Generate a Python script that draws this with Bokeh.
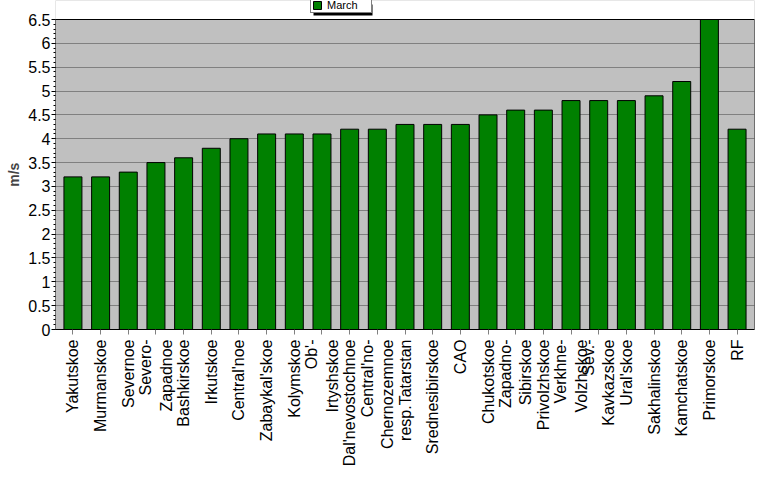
from math import pi
from bokeh.plotting import figure
from bokeh.models import FactorRange, Range1d, Legend, LegendItem, FixedTicker, BoxAnnotation
from bokeh.embed import file_html
from bokeh.resources import INLINE

regions = ["Yakutskoe", "Murmanskoe", "Severnoe", "Severo-\nZapadnoe", "Bashkirskoe",
           "Irkutskoe", "Central'noe", "Zabaykal'skoe", "Kolymskoe", "Ob'-\nIrtyshskoe",
           "Dal'nevostochnoe", "Central'no-\nChernozemnoe", "resp.Tatarstan", "Srednesibirskoe",
           "CAO", "Chukotskoe", "Zapadno-\nSibirskoe", "Privolzhskoe", "Verkhne-\nVolzhskoe",
           "Sev.-\nKavkazskoe", "Ural'skoe", "Sakhalinskoe", "Kamchatskoe", "Primorskoe", "RF"]
march = [3.2, 3.2, 3.3, 3.5, 3.6, 3.8, 4.0, 4.1, 4.1, 4.1, 4.2, 4.2, 4.3, 4.3, 4.3,
         4.5, 4.6, 4.6, 4.8, 4.8, 4.8, 4.9, 5.2, 6.5, 4.2]
y_ticks = [0, 0.5, 1, 1.5, 2, 2.5, 3, 3.5, 4, 4.5, 5, 5.5, 6, 6.5]
y_tick_labels = ["0", "0.5", "1", "1.5", "2", "2.5", "3", "3.5", "4", "4.5", "5", "5.5", "6", "6.5"]
y_max = 6.5
series_name = "March"
y_label = "m/s"

FONT = "Liberation Sans"

# frame spans the whole top of the page so the legend (drawn above the plot area) is not clipped
plot_h = 310.0
top_extra = 19.0
y_end = y_max * (plot_h + top_extra) / plot_h

p = figure(width=777, height=479, output_backend="svg", toolbar_location=None,
           x_range=FactorRange(factors=regions, range_padding=0.0104, range_padding_units="percent"),
           y_range=Range1d(0, y_end),
           min_border_left=55, min_border_right=23, min_border_top=0, min_border_bottom=150)

p.background_fill_color = "#C0C0C0"
p.border_fill_color = "white"
p.outline_line_color = None

p.xgrid.visible = False
p.ygrid.grid_line_color = "#808080"
p.ygrid.grid_line_width = 1
p.ygrid.ticker = FixedTicker(ticks=y_ticks)

# white strip above the plot area
p.add_layout(BoxAnnotation(bottom=y_max, fill_color="white", fill_alpha=1, line_color=None,
                           level="underlay"))

r = p.vbar(x=regions, top=march, width=0.65, fill_color="#008000", line_color="black", line_width=1)

# plot-area outline
p.add_layout(BoxAnnotation(bottom=0, top=y_max, fill_alpha=0, line_color="black", line_width=1,
                           line_alpha=1))

ya = p.yaxis[0]
ya.bounds = (0, y_max)
ya.ticker = FixedTicker(ticks=y_ticks, minor_ticks=[i * 0.1 for i in range(66)])
ya.major_label_overrides = {t: l for t, l in zip(y_ticks, y_tick_labels)}
ya.major_label_text_font = FONT
ya.major_label_text_font_size = "16px"
ya.major_label_text_color = "black"
ya.major_tick_in = 0
ya.major_tick_out = 4
ya.minor_tick_in = 0
ya.minor_tick_out = 2
ya.major_label_standoff = 1
ya.axis_line_color = None
# trailing no-break spaces shift the label down to the middle of the plot area
ya.axis_label = y_label + "\u00a0" * 5
ya.axis_label_text_font = FONT
ya.axis_label_text_font_style = "bold"
ya.axis_label_text_font_size = "14px"
ya.axis_label_standoff = 3

xa = p.xaxis[0]
xa.major_label_orientation = pi / 2
xa.major_label_text_font = FONT
xa.major_label_text_font_size = "16px"
xa.major_label_text_color = "black"
xa.major_tick_in = 0
xa.major_tick_out = 5
xa.major_tick_line_color = "#808080"
xa.minor_tick_line_color = None
xa.major_label_standoff = 5
xa.axis_line_color = "black"

# legend drop shadow (screen units: x from frame left, y up from frame bottom)
p.add_layout(BoxAnnotation(left=258, right=317, top=325, bottom=314,
                           left_units="screen", right_units="screen",
                           top_units="screen", bottom_units="screen",
                           fill_color="black", fill_alpha=1, line_color=None))

legend = Legend(items=[LegendItem(label=series_name, renderers=[r])],
                location=(255, 316), orientation="horizontal",
                border_line_color="black", border_line_width=1,
                background_fill_color="white", background_fill_alpha=1,
                label_text_color="black",
                label_text_font=FONT, label_text_font_size="11px",
                glyph_width=10, glyph_height=10, label_height=11, label_width=43,
                padding=1, spacing=0, margin=0, label_standoff=5)
p.add_layout(legend, "center")

open("out.html", "w").write(file_html(p, INLINE))
